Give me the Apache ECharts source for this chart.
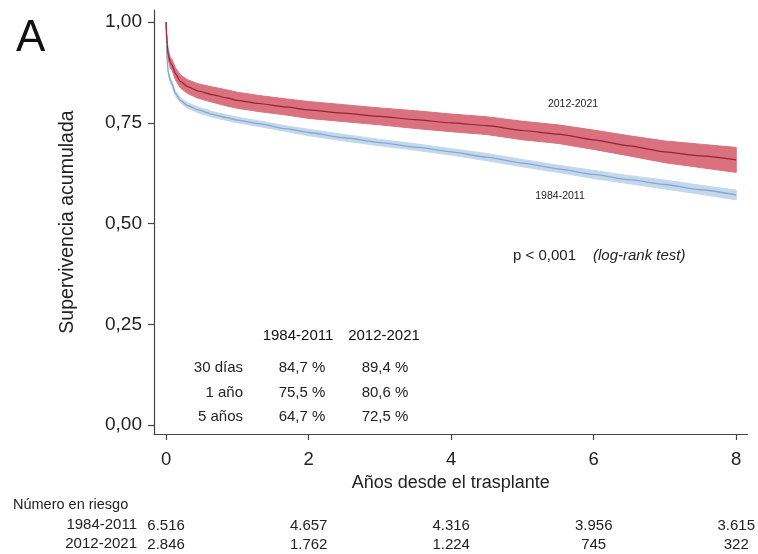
<!DOCTYPE html>
<html>
<head>
<meta charset="utf-8">
<script src="https://cdn.jsdelivr.net/npm/echarts@6/dist/echarts.min.js"></script>
<style>html,body{margin:0;padding:0;background:#fff}#c{width:758px;height:554px}</style>
</head>
<body>
<div id="c"></div>
<script>
// ---- data ----
const times = [0, 0.005, 0.015, 0.03, 0.06, 0.082, 0.13, 0.2, 0.3, 0.45, 0.65, 0.85, 1.0, 1.3, 1.7, 2.0, 2.5, 3.0, 3.5, 4.0, 4.5, 5.0, 5.5, 6.0, 6.5, 7.0, 7.5, 8.0];
// 2012-2021
const late   = [1.000, 0.975, 0.945, 0.918, 0.899, 0.894, 0.872, 0.853, 0.840, 0.829, 0.820, 0.812, 0.806, 0.798, 0.789, 0.782, 0.774, 0.766, 0.758, 0.750, 0.743, 0.731, 0.722, 0.708, 0.693, 0.678, 0.668, 0.658];
const lateLo = [1.000, 0.969, 0.935, 0.906, 0.886, 0.881, 0.857, 0.837, 0.823, 0.811, 0.801, 0.792, 0.786, 0.778, 0.769, 0.761, 0.753, 0.745, 0.736, 0.728, 0.721, 0.708, 0.699, 0.684, 0.668, 0.651, 0.639, 0.627];
const lateHi = [1.000, 0.981, 0.955, 0.930, 0.912, 0.907, 0.887, 0.869, 0.857, 0.847, 0.839, 0.832, 0.826, 0.818, 0.809, 0.803, 0.795, 0.787, 0.780, 0.772, 0.765, 0.754, 0.745, 0.732, 0.718, 0.705, 0.697, 0.689];
// 1984-2011
const early   = [1.000, 0.950, 0.905, 0.875, 0.855, 0.847, 0.823, 0.806, 0.793, 0.782, 0.771, 0.763, 0.757, 0.748, 0.735, 0.726, 0.713, 0.701, 0.690, 0.678, 0.665, 0.650, 0.636, 0.622, 0.609, 0.597, 0.584, 0.571];
const earlyLo = [1.000, 0.946, 0.900, 0.869, 0.849, 0.841, 0.817, 0.800, 0.786, 0.775, 0.764, 0.756, 0.750, 0.741, 0.728, 0.718, 0.705, 0.693, 0.682, 0.670, 0.656, 0.641, 0.627, 0.612, 0.599, 0.586, 0.573, 0.559];
const earlyHi = [1.000, 0.954, 0.910, 0.881, 0.861, 0.853, 0.829, 0.812, 0.800, 0.789, 0.778, 0.770, 0.764, 0.755, 0.742, 0.734, 0.721, 0.709, 0.698, 0.686, 0.674, 0.659, 0.645, 0.632, 0.619, 0.608, 0.595, 0.583];

const xTicks = [0, 2, 4, 6, 8];
const yTicks = [0, 0.25, 0.5, 0.75, 1];
const riskTimes = [0, 2, 4, 6, 8];
const riskEarly = ['6.516', '4.657', '4.316', '3.956', '3.615'];
const riskLate  = ['2.846', '1.762', '1.224', '745', '322'];
const groupNames = ['1984-2011', '2012-2021'];
const tableRows = ['30 días', '1 año', '5 años'];
const tableEarly = ['84,7 %', '75,5 %', '64,7 %'];
const tableLate  = ['89,4 %', '80,6 %', '72,5 %'];

// ---- chart ----
const FONT = '"Liberation Sans", Arial, Helvetica, sans-serif';
const chart = echarts.init(document.getElementById('c'), null, {renderer: 'canvas'});
const XMIN = -0.17, XMAX = 8.16;

function pairs(t, v) { return t.map((x, i) => [x, v[i]]); }
function bandSeries(lo, hi, color) {
  return {
    type: 'custom',
    silent: true,
    data: [[0, 0]],
    z: 1,
    renderItem: function (params, api) {
      const pts = [];
      for (let i = 0; i < times.length; i++) pts.push(api.coord([times[i], hi[i]]));
      for (let i = times.length - 1; i >= 0; i--) pts.push(api.coord([times[i], lo[i]]));
      return {type: 'polygon', shape: {points: pts}, style: {fill: color, stroke: color, lineWidth: 1}};
    }
  };
}
function riskAxis(values, offset) {
  return {
    type: 'value', min: XMIN, max: XMAX, position: 'bottom', offset: offset,
    axisLine: {show: false}, axisTick: {show: false}, splitLine: {show: false},
    axisLabel: {
      customValues: riskTimes, margin: 4, fontSize: 15, fontFamily: FONT, color: '#222',
      formatter: function (v) { const i = riskTimes.indexOf(v); return i >= 0 ? values[i] : ''; }
    }
  };
}

const graphics = [
  {type: 'text', x: 16, y: 39, style: {text: 'A', font: '44px ' + FONT, fill: '#111', textAlign: 'left', textVerticalAlign: 'middle'}},
  {type: 'text', x: 573, y: 104, style: {text: groupNames[1], font: '10.5px ' + FONT, fill: '#222', textAlign: 'center', textVerticalAlign: 'middle'}},
  {type: 'text', x: 560, y: 196, style: {text: groupNames[0], font: '10.5px ' + FONT, fill: '#222', textAlign: 'center', textVerticalAlign: 'middle'}},
  {type: 'text', x: 513, y: 256, style: {text: 'p < 0,001', font: '15px ' + FONT, fill: '#222', textAlign: 'left', textVerticalAlign: 'middle'}},
  {type: 'text', x: 593, y: 256, style: {text: '(log-rank test)', font: 'italic 15px ' + FONT, fill: '#222', textAlign: 'left', textVerticalAlign: 'middle'}},
  {type: 'text', x: 298, y: 336, style: {text: groupNames[0], font: '15px ' + FONT, fill: '#111', textAlign: 'center', textVerticalAlign: 'middle'}},
  {type: 'text', x: 384, y: 336, style: {text: groupNames[1], font: '15px ' + FONT, fill: '#111', textAlign: 'center', textVerticalAlign: 'middle'}},
  {type: 'text', x: 13, y: 505, style: {text: 'Número en riesgo', font: '14.5px ' + FONT, fill: '#222', textAlign: 'left', textVerticalAlign: 'middle'}},
  {type: 'text', x: 137, y: 525, style: {text: groupNames[0], font: '15px ' + FONT, fill: '#222', textAlign: 'right', textVerticalAlign: 'middle'}},
  {type: 'text', x: 137, y: 544, style: {text: groupNames[1], font: '15px ' + FONT, fill: '#222', textAlign: 'right', textVerticalAlign: 'middle'}}
];
const rowY = [368, 393, 417];
tableRows.forEach((r, i) => {
  graphics.push({type: 'text', x: 243, y: rowY[i], style: {text: r, font: '15px ' + FONT, fill: '#222', textAlign: 'right', textVerticalAlign: 'middle'}});
  graphics.push({type: 'text', x: 302, y: rowY[i], style: {text: tableEarly[i], font: '15px ' + FONT, fill: '#222', textAlign: 'center', textVerticalAlign: 'middle'}});
  graphics.push({type: 'text', x: 385, y: rowY[i], style: {text: tableLate[i], font: '15px ' + FONT, fill: '#222', textAlign: 'center', textVerticalAlign: 'middle'}});
});

const option = {
  animation: false,
  backgroundColor: '#fff',
  grid: {left: 154, right: 8, top: 10, bottom: 120, containLabel: false},
  xAxis: [
    {
      type: 'value', min: XMIN, max: XMAX, position: 'bottom',
      name: 'Años desde el trasplante', nameLocation: 'middle', nameGap: 38,
      nameTextStyle: {fontSize: 18, fontFamily: FONT, color: '#222'},
      axisLine: {show: true, onZero: false, lineStyle: {color: '#444', width: 1.2}},
      axisTick: {show: true, customValues: xTicks, length: 6, inside: false, lineStyle: {color: '#444', width: 1.2}},
      axisLabel: {customValues: xTicks, margin: 16, fontSize: 18.5, fontFamily: FONT, color: '#222'},
      splitLine: {show: false}
    },
    riskAxis(riskEarly, 80),
    riskAxis(riskLate, 99)
  ],
  yAxis: {
    type: 'value', min: -0.022, max: 1.03,
    name: 'Supervivencia acumulada', nameLocation: 'middle', nameGap: 76,
    nameTextStyle: {fontSize: 19.5, fontFamily: FONT, color: '#222'},
    axisLine: {show: true, onZero: false, lineStyle: {color: '#444', width: 1.2}},
    axisTick: {show: true, customValues: yTicks, length: 6, lineStyle: {color: '#444', width: 1.2}},
    axisLabel: {customValues: yTicks, margin: 12, fontSize: 19, fontFamily: FONT, color: '#222',
      formatter: v => v.toFixed(2).replace('.', ',')},
    splitLine: {show: false}
  },
  series: [
    bandSeries(earlyLo, earlyHi, '#c4d7ec'),
    bandSeries(lateLo, lateHi, '#d9717f'),
    {type: 'line', data: pairs(times, early), showSymbol: false, symbol: 'none', smooth: 0.2, smoothMonotone: 'x',
      lineStyle: {color: '#86a9cf', width: 1.3}, z: 3, silent: true},
    {type: 'line', data: pairs(times, late), showSymbol: false, symbol: 'none', smooth: 0.2, smoothMonotone: 'x',
      lineStyle: {color: '#9c1f35', width: 1.2}, z: 3, silent: true}
  ],
  graphic: graphics
};
chart.setOption(option);
</script>
</body>
</html>
